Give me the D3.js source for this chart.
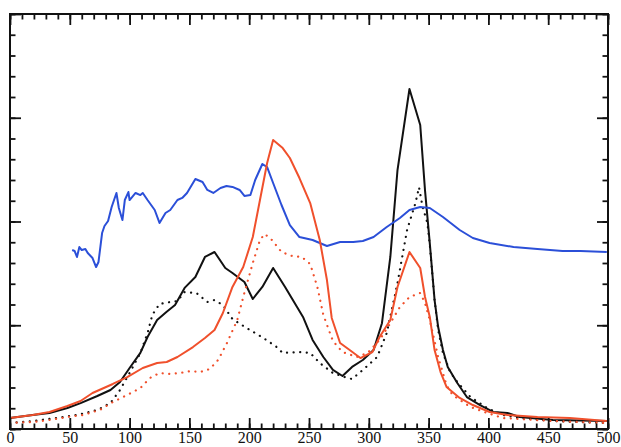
<!DOCTYPE html>
<html>
<head>
<meta charset="utf-8">
<script src="https://cdn.jsdelivr.net/npm/d3@7"></script>
<style>
  body { margin: 0; background: #fff; }
  svg { display: block; }
</style>
</head>
<body>
<script>
'use strict';

// x positions (0-500) and y values (arbitrary units, axis 0-4)
const blackX = [0,19,33,48,59,73,84,92,100,109,115,123,131,138,146,155,163,171,180,186,196,203,211,220,230,240,245,253,262,270,278,286,295,304,311,318,324,334,343,347,351,355,358,362,366,374,382,393,404,416,426,454,499];
const blackY = [0.106,0.135,0.154,0.202,0.25,0.318,0.376,0.453,0.588,0.733,0.887,1.05,1.13,1.195,1.36,1.465,1.658,1.706,1.552,1.504,1.417,1.253,1.369,1.552,1.369,1.176,1.08,0.858,0.694,0.569,0.511,0.598,0.665,0.761,1.02,1.658,2.496,3.277,2.93,2.30,1.79,1.243,0.983,0.761,0.598,0.443,0.308,0.231,0.164,0.154,0.116,0.087,0.077];

const blackDotX = [0,19,39,56,73,84,92,100,109,115,119,125,134,140,146,156,165,171,178,186,198,212,223,228,242,251,259,270,282,286,295,307,315,324,332,339,342,345,349,351,355,358,362,368,374,385,399,412,426,454,499];
const blackDotY = [0.058,0.077,0.106,0.135,0.183,0.25,0.376,0.54,0.733,0.925,1.10,1.205,1.224,1.234,1.32,1.31,1.224,1.243,1.195,1.06,0.973,0.877,0.79,0.733,0.742,0.733,0.636,0.54,0.492,0.482,0.569,0.694,0.925,1.407,1.918,2.178,2.33,2.14,1.986,1.773,1.243,0.954,0.733,0.549,0.453,0.308,0.202,0.135,0.106,0.077,0.058];

const redX = [0,19,33,48,59,69,86,98,111,123,131,140,153,163,171,178,186,195,203,209,215,220,228,234,242,251,259,265,269,276,284,293,303,309,318,324,334,343,347,351,355,360,365,376,387,401,416,441,468,499];
const redY = [0.106,0.135,0.164,0.222,0.27,0.347,0.434,0.50,0.588,0.636,0.646,0.694,0.79,0.877,0.954,1.118,1.369,1.561,1.85,2.207,2.564,2.786,2.708,2.612,2.419,2.178,1.822,1.436,1.07,0.829,0.761,0.684,0.742,0.887,1.05,1.369,1.706,1.552,1.272,1.08,0.761,0.549,0.405,0.299,0.231,0.164,0.135,0.116,0.106,0.077];

const redDotX = [0,19,33,48,61,75,86,98,109,117,125,134,142,151,159,167,174,181,190,195,203,209,213,219,227,236,244,251,257,262,270,278,290,299,309,318,326,334,343,347,351,358,365,370,385,399,412,426,454,499];
const redDotY = [0.058,0.067,0.087,0.116,0.135,0.183,0.26,0.328,0.395,0.492,0.54,0.53,0.54,0.559,0.549,0.578,0.665,0.819,1.05,1.272,1.60,1.822,1.88,1.822,1.706,1.667,1.658,1.59,1.369,1.099,0.848,0.742,0.694,0.733,0.858,1.02,1.176,1.272,1.311,1.214,1.05,0.694,0.424,0.328,0.212,0.154,0.106,0.096,0.077,0.058];

const blueX = [52,54,56,58,60,63,65,69,72,74,77,79,82,85,89,91,94,96,99,100,105,109,111,115,121,125,130,134,140,144,148,151,155,161,165,170,176,181,186,192,196,201,205,211,215,220,227,234,242,253,265,276,287,295,304,315,326,334,343,351,362,376,387,401,421,441,462,477,499];
const blueY = [1.725,1.716,1.658,1.754,1.725,1.735,1.696,1.648,1.561,1.61,1.889,1.957,2.005,2.14,2.275,2.13,2.014,2.207,2.284,2.207,2.275,2.255,2.275,2.207,2.111,1.986,2.082,2.111,2.207,2.227,2.275,2.333,2.41,2.381,2.304,2.275,2.323,2.342,2.333,2.304,2.246,2.255,2.40,2.554,2.525,2.371,2.159,1.966,1.85,1.822,1.764,1.802,1.802,1.812,1.85,1.947,2.034,2.111,2.14,2.13,2.043,1.918,1.841,1.793,1.754,1.735,1.716,1.716,1.706];

const xTickLabels = [0,50,100,150,200,250,300,350,400,450,500];

(function() {

  let svgContainer = "";

  const left = 10, right = 608, top = 14, bottom = 429;

  window.onload = function() {
    svgContainer = d3.select('body')
      .append('svg')
      .attr('width', 621)
      .attr('height', 447);

    let xScale = d3.scaleLinear().domain([0, 500]).range([left, right]);
    let yScale = d3.scaleLinear().domain([0, 4]).range([bottom, top]);

    drawLine(blackX, blackY, xScale, yScale, '#111', false);
    drawLine(blackDotX, blackDotY, xScale, yScale, '#111', true);
    drawLine(redDotX, redDotY, xScale, yScale, '#f0502c', true);
    drawLine(blueX, blueY, xScale, yScale, '#2b4fd8', false);
    drawLine(redX, redY, xScale, yScale, '#f0502c', false);

    drawFrame(xScale, yScale);
  }

  function drawLine(xs, ys, xScale, yScale, color, dotted) {
    let points = xs.map((x, i) => [x, ys[i]]);
    let line = d3.line()
      .x(d => xScale(d[0]))
      .y(d => yScale(d[1]));

    let path = svgContainer.append('path')
      .datum(points)
      .attr('d', line)
      .attr('fill', 'none')
      .attr('stroke', color)
      .attr('stroke-linejoin', 'round');

    if (dotted) {
      path.attr('stroke-width', 2.2)
        .attr('stroke-linecap', 'round')
        .attr('stroke-dasharray', '0.1 6.5');
    } else {
      path.attr('stroke-width', 2);
    }
  }

  function drawFrame(xScale, yScale) {
    let minorX = d3.range(0, 501, 10);
    let minorY = d3.range(0, 4.01, 0.2);

    let axes = [
      { axis: d3.axisBottom(xScale), t: 'translate(0,' + bottom + ')', minor: minorX, major: xTickLabels, lab: true },
      { axis: d3.axisTop(xScale), t: 'translate(0,' + top + ')', minor: minorX, major: xTickLabels, lab: false },
      { axis: d3.axisLeft(yScale), t: 'translate(' + left + ',0)', minor: minorY, major: [0,1,2,3,4], lab: false },
      { axis: d3.axisRight(yScale), t: 'translate(' + right + ',0)', minor: minorY, major: [0,1,2,3,4], lab: false }
    ];

    axes.forEach(a => {
      let minorG = svgContainer.append('g')
        .attr('transform', a.t)
        .call(a.axis.tickValues(a.minor).tickSize(-5.5).tickFormat(''));
      minorG.select('.domain').remove();
      minorG.selectAll('line').attr('stroke', '#111').attr('stroke-width', 1.8);

      let majorG = svgContainer.append('g')
        .attr('transform', a.t)
        .call(a.axis.tickValues(a.major).tickSize(-11).tickPadding(3)
          .tickFormat(a.lab ? d3.format('d') : ''));
      majorG.select('.domain').remove();
      majorG.selectAll('line').attr('stroke', '#111').attr('stroke-width', 1.8);
      majorG.selectAll('text')
        .attr('font-family', '"Liberation Serif", "DejaVu Serif", serif')
        .attr('font-size', '16px')
        .attr('fill', '#111');
    });

    svgContainer.append('rect')
      .attr('x', left)
      .attr('y', top)
      .attr('width', right - left)
      .attr('height', bottom - top)
      .attr('fill', 'none')
      .attr('stroke', '#111')
      .attr('stroke-width', 2);
  }

})();
</script>
</body>
</html>
